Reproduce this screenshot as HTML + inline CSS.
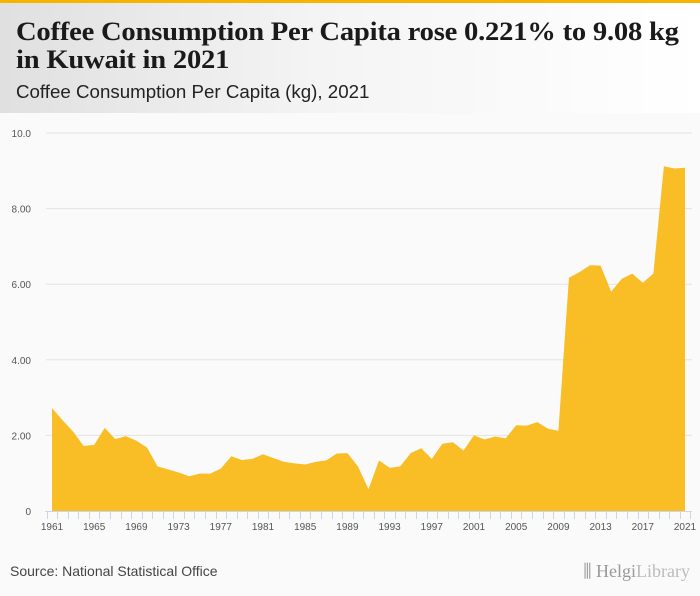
<!DOCTYPE html>
<html><head><meta charset="utf-8"><style>
body{margin:0;width:700px;height:596px;background:#fafafa;font-family:"Liberation Sans",sans-serif;overflow:hidden;position:relative}
#hdr{position:absolute;left:0;top:0;width:700px;height:113px;background:linear-gradient(90deg,#e0e0e0 0%,#f4f4f4 45%,#fff 100%);border-top:3px solid #f6b400;box-sizing:border-box}
#title{position:absolute;left:16px;top:15px;font-family:"Liberation Serif",serif;font-weight:bold;font-size:26px;line-height:28px;color:#1a1a1a;letter-spacing:-0.2px;transform:scaleX(1.1);transform-origin:0 0;white-space:nowrap}
#sub{position:absolute;left:16px;top:79px;font-size:18px;color:#222;transform:scaleX(1.04);transform-origin:0 0;white-space:nowrap}
#src{position:absolute;left:10px;top:563px;font-size:14px;color:#444}
#logo{position:absolute;right:10px;top:561px;font-family:"Liberation Serif",serif;font-size:18px;color:#999}
svg{position:absolute;left:0;top:0}
</style></head><body>
<div id="hdr">
<div id="title">Coffee Consumption Per Capita rose 0.221% to 9.08 kg<br>in Kuwait in 2021</div>
<div id="sub">Coffee Consumption Per Capita (kg), 2021</div>
</div>
<svg id="chart" width="700" height="596"></svg>
<div id="src">Source: National Statistical Office</div>
<div id="logo">⫼ Helgi<span style="color:#bbb">Library</span></div>
<script>
const years=[];for(let y=1961;y<=2021;y++)years.push(y);
const values=[2.72,2.4,2.1,1.72,1.75,2.2,1.9,1.98,1.86,1.68,1.18,1.1,1.02,0.92,0.99,0.99,1.12,1.45,1.35,1.38,1.5,1.4,1.3,1.26,1.23,1.3,1.34,1.52,1.53,1.18,0.58,1.34,1.14,1.18,1.53,1.66,1.38,1.78,1.82,1.6,2.0,1.89,1.97,1.92,2.27,2.26,2.35,2.18,2.12,6.17,6.32,6.5,6.49,5.8,6.14,6.28,6.04,6.28,9.12,9.06,9.08];
const yTicks=[0,2,4,6,8,10];
const yTickLabels=["0","2.00","4.00","6.00","8.00","10.0"];
const xLabelYears=[1961,1965,1969,1973,1977,1981,1985,1989,1993,1997,2001,2005,2009,2013,2017,2021];
const svg=document.getElementById('chart');const NS='http://www.w3.org/2000/svg';
const x=v=>52+(v-1961)*(685-52)/60;
const y=v=>511-v*37.8;
function mk(t,a){const e=document.createElementNS(NS,t);for(const k in a)e.setAttribute(k,a[k]);svg.appendChild(e);return e;}
yTicks.forEach((t,i)=>{
 if(t>0){const l=mk('line',{x1:46,x2:692,y1:y(t),y2:y(t),stroke:'#e3e3e3','stroke-width':1});
 
 }
 const tx=mk('text',{x:31,y:y(t)+4,'text-anchor':'end','font-size':10,fill:'#555','font-family':'Liberation Sans'});
 tx.textContent=yTickLabels[i];
 
 
});
let d='M'+x(years[0])+','+y(0);
years.forEach((yr,i)=>{d+=' L'+x(yr)+','+y(values[i]);});
d+=' L'+x(years[years.length-1])+','+y(0)+' Z';
const area=mk('path',{d:d,fill:'#f9b919',opacity:0.95});


const ax=mk('line',{x1:45,x2:692,y1:511.5,y2:511.5,stroke:'#ccd6eb'});


years.concat([2022]).forEach(yr=>{const xx=Math.round(x(yr-0.5))+0.5;const t=mk('line',{x1:xx,x2:xx,y1:511,y2:519,stroke:'#ccd6eb'});
 
 });
xLabelYears.forEach(yr=>{const t=mk('text',{x:x(yr),y:530,'text-anchor':'middle','font-size':10,fill:'#555','font-family':'Liberation Sans'});
 t.textContent=yr;
 
 });
</script>
</body></html>
